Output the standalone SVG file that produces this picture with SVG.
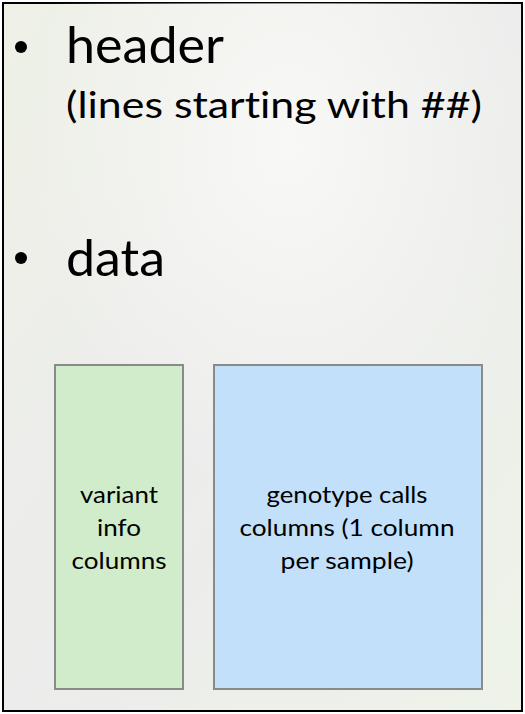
<svg xmlns="http://www.w3.org/2000/svg" width="525" height="714" viewBox="0 0 525 714">
<defs>
<linearGradient id="bg" x1="0" y1="0" x2="1" y2="1">
<stop offset="0" stop-color="#eef1e6"/>
<stop offset="0.5" stop-color="#ececec"/>
<stop offset="1" stop-color="#eef3e8"/>
</linearGradient>
<radialGradient id="glow" cx="0.55" cy="0.2" r="0.5">
<stop offset="0" stop-color="#f8f8f6"/>
<stop offset="1" stop-color="#f8f8f6" stop-opacity="0"/>
</radialGradient>
</defs>
<style>
text{font-family:"Lato","Open Sans",sans-serif;fill:#000;font-variant-ligatures:none}
.big{font-size:50px}
.sub{font-size:37px}
.box{stroke:#8a8a8a;stroke-width:2}
.lbl{font-size:23px;text-anchor:middle}
</style>
<rect x="0" y="0" width="525" height="714" fill="#fff"/>
<rect x="3" y="3" width="519" height="708" fill="url(#bg)" stroke="#000" stroke-width="2"/>
<rect x="3" y="3" width="519" height="708" fill="url(#glow)"/>
<g id="header">
<circle cx="21" cy="47" r="6" fill="#000"/>
<text class="big" x="66" y="63" textLength="158" lengthAdjust="spacingAndGlyphs">header</text>
<text class="sub" x="66" y="118" textLength="416" lengthAdjust="spacingAndGlyphs">(lines starting with ##)</text>
</g>
<g id="data">
<circle cx="21" cy="258" r="6" fill="#000"/>
<text class="big" x="66" y="276" textLength="99" lengthAdjust="spacingAndGlyphs">data</text>
</g>
<g id="variant">
<rect class="box" x="55" y="365" width="128" height="324" fill="#d0ecca"/>
<text class="lbl" x="119" y="503" textLength="78" lengthAdjust="spacingAndGlyphs">variant</text>
<text class="lbl" x="119" y="536" textLength="44" lengthAdjust="spacingAndGlyphs">info</text>
<text class="lbl" x="119" y="569" textLength="95" lengthAdjust="spacingAndGlyphs">columns</text>
</g>
<g id="genotype">
<rect class="box" x="214" y="365" width="268" height="324" fill="#c2e0fa"/>
<text class="lbl" x="347" y="503" textLength="161" lengthAdjust="spacingAndGlyphs">genotype calls</text>
<text class="lbl" x="347" y="536" textLength="215" lengthAdjust="spacingAndGlyphs">columns (1 column</text>
<text class="lbl" x="347" y="569" textLength="133" lengthAdjust="spacingAndGlyphs">per sample)</text>
</g>
<g id="connectors"/>
</svg>
